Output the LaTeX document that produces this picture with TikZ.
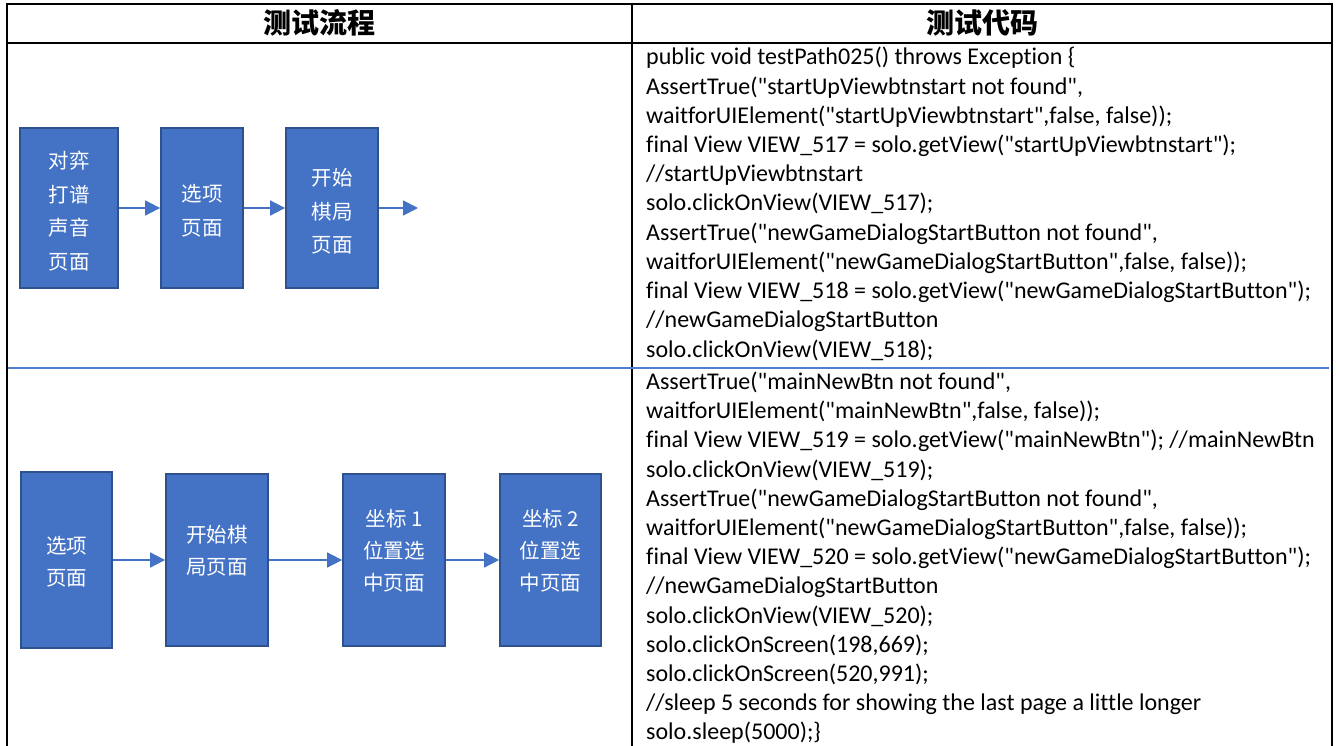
\documentclass[tikz,border=0pt]{standalone}
\usepackage{fontspec}
\setmainfont{Carlito}[Ligatures={TeXOff,CommonOff}]
\newfontfamily\cjk{Noto Sans CJK SC}
\usetikzlibrary{arrows.meta}
\definecolor{boxfill}{HTML}{4472C4}
\definecolor{boxedge}{HTML}{2F528F}
\definecolor{flow}{HTML}{4472C4}
\definecolor{sepblue}{HTML}{4F7FD0}
\newcommand{\cl}[3]{\node[codeln] (#1) at (646,#2) {#3};}
\begin{document}
\begin{tikzpicture}[x=1pt,y=-1pt,
  rule/.style={line width=2.2pt, black},
  sepline/.style={line width=1.4pt, sepblue},
  head/.style={font=\cjk\bfseries\fontsize{28}{32}\selectfont, inner sep=0pt},
  codeln/.style={font=\fontsize{24}{28}\selectfont, anchor=base west, inner sep=0pt},
  box/.style={draw=boxedge, fill=boxfill, line width=1.8pt, inner sep=0pt},
  boxtxt/.style={text=white, font=\cjk\fontsize{20.5}{33.5}\selectfont, align=center, inner sep=0pt},
  boxtxtb/.style={boxtxt, font=\cjk\fontsize{20.5}{32}\selectfont},
  flowarrow/.style={draw=flow, line width=1.8pt, -{Triangle[length=15pt,width=15pt]}},
]
\useasboundingbox (0,0) rectangle (1340,746);
\fill[white] (0,0) rectangle (1340,746);

% table rules
\draw[rule] (7,4) -- (1332,4);
\draw[rule] (7,43) -- (1332,43);
\draw[rule] (7,3) -- (7,750);
\draw[rule] (632,3) -- (632,750);
\draw[rule] (1332,3) -- (1332,750);
\draw[sepline] (8,368) -- (1329,368);

% headers
\node[head] (h1) at (319.5,23) {测试流程};
\node[head] (h2) at (982,23) {测试代码};

% top flow
\node[box, minimum width=98pt, minimum height=160pt] (b1) at (69,208) {};
\node[box, minimum width=82pt, minimum height=160pt] (b2) at (202,208) {};
\node[box, minimum width=92pt, minimum height=160pt] (b3) at (332,208) {};
\node[boxtxt] (t1) at (69,211) {对弈\\打谱\\声音\\页面};
\node[boxtxt] (t2) at (202,211) {选项\\页面};
\node[boxtxt] (t3) at (332,211.5) {开始\\棋局\\页面};
\coordinate (e3) at (418,208);
\draw[flowarrow] (b1.east) -- (b2.west);
\draw[flowarrow] (b2.east) -- (b3.west);
\draw[flowarrow] (b3.east) -- (e3);

% bottom flow
\node[box, minimum width=91pt, minimum height=176pt] (ba) at (66.5,560) {};
\node[box, minimum width=102pt, minimum height=172pt] (bb) at (217,560) {};
\node[box, minimum width=102pt, minimum height=172pt] (bc) at (394,560) {};
\node[box, minimum width=101pt, minimum height=172pt] (bd) at (550.5,560) {};
\node[boxtxtb] (ta) at (66.5,561.5) {选项\\页面};
\node[boxtxtb] (tb) at (217,551) {开始棋\\局页面};
\node[boxtxtb] (tc) at (394,551) {坐标 1\\位置选\\中页面};
\node[boxtxtb] (td) at (550.5,551) {坐标 2\\位置选\\中页面};
\draw[flowarrow] (ba.east) -- (bb.west);
\draw[flowarrow] (bb.east) -- (bc.west);
\draw[flowarrow] (bc.east) -- (bd.west);

% code, top row
\cl{c1}{65}{public void testPath025() throws Exception \{}
\cl{c2}{94.2}{AssertTrue("startUpViewbtnstart not found",}
\cl{c3}{123.4}{waitforUIElement("startUpViewbtnstart",false, false));}
\cl{c4}{152.6}{final View VIEW\_517 = solo.getView("startUpViewbtnstart");}
\cl{c5}{181.8}{//startUpViewbtnstart}
\cl{c6}{211}{solo.clickOnView(VIEW\_517);}
\cl{c7}{240.2}{AssertTrue("newGameDialogStartButton not found",}
\cl{c8}{269.4}{waitforUIElement("newGameDialogStartButton",false, false));}
\cl{c9}{298.6}{final View VIEW\_518 = solo.getView("newGameDialogStartButton");}
\cl{c10}{327.8}{//newGameDialogStartButton}
\cl{c11}{357}{solo.clickOnView(VIEW\_518);}

% code, bottom row
\cl{d1}{389.5}{AssertTrue("mainNewBtn not found",}
\cl{d2}{418.7}{waitforUIElement("mainNewBtn",false, false));}
\cl{d3}{447.9}{final View VIEW\_519 = solo.getView("mainNewBtn"); //mainNewBtn}
\cl{d4}{477.1}{solo.clickOnView(VIEW\_519);}
\cl{d5}{506.3}{AssertTrue("newGameDialogStartButton not found",}
\cl{d6}{535.5}{waitforUIElement("newGameDialogStartButton",false, false));}
\cl{d7}{564.7}{final View VIEW\_520 = solo.getView("newGameDialogStartButton");}
\cl{d8}{593.9}{//newGameDialogStartButton}
\cl{d9}{623.1}{solo.clickOnView(VIEW\_520);}
\cl{d10}{652.3}{solo.clickOnScreen(198,669);}
\cl{d11}{681.5}{solo.clickOnScreen(520,991);}
\cl{d12}{710.7}{//sleep 5 seconds for showing the last page a little longer}
\cl{d13}{739.9}{solo.sleep(5000);\}}
\end{tikzpicture}
\end{document}
